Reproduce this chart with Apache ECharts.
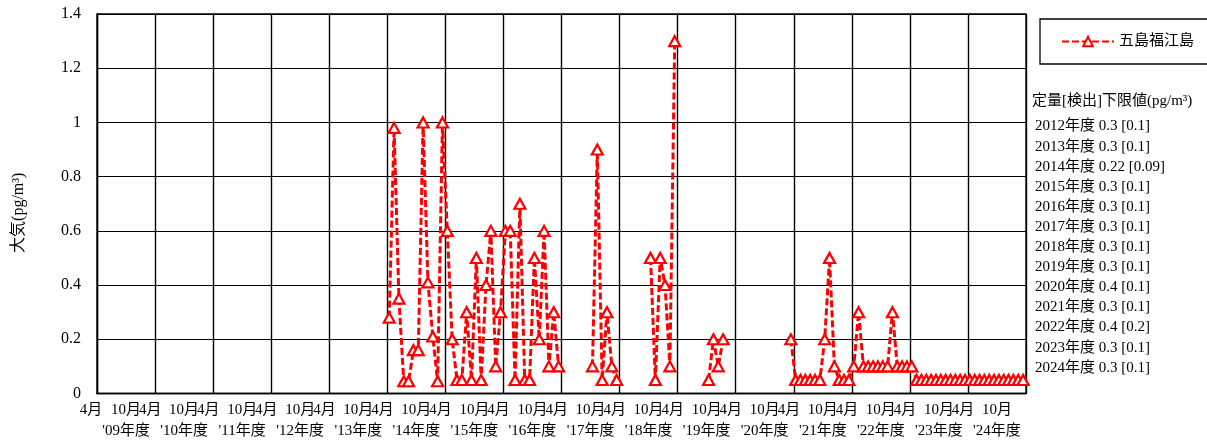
<!DOCTYPE html>
<html>
<head>
<meta charset="utf-8">
<script src="https://cdn.jsdelivr.net/npm/echarts@6/dist/echarts.min.js"></script>
<style>
html,body{margin:0;padding:0;background:#fff;}
#chart{width:1207px;height:443px;}
</style>
</head>
<body>
<div id="chart"></div>
<script>
// ---- data ----
const seriesName = '五島福江島';
const firstFiscalYear = 2009;           // axis starts April 2009
const totalMonths = 192;                // April 2009 .. March 2025
const dataStartMonth = 60;              // April 2014 (months since April 2009)
const fy2014 = [0.28, 0.98, 0.35, 0.045, 0.045, 0.16, 0.16, 1.0, 0.41, 0.21, 0.045, 1.0];
const fy2015 = [0.6, 0.2, 0.05, 0.05, 0.3, 0.05, 0.5, 0.05, 0.4, 0.6, 0.1, 0.3];
const fy2016 = [0.6, 0.6, 0.05, 0.7, 0.05, 0.05, 0.5, 0.2, 0.6, 0.1, 0.3, 0.1];
const fy2017 = [null, null, null, null, null, null, 0.1, 0.9, 0.05, 0.3, 0.1, 0.05];
const fy2018 = [null, null, null, null, null, null, 0.5, 0.05, 0.5, 0.4, 0.1, 1.3];
const fy2019 = [null, null, null, null, null, null, 0.05, 0.2, 0.1, 0.2, null, null];
const fy2020 = [null, null, null, null, null, null, null, null, null, null, null, 0.2];
const fy2021 = [0.05, 0.05, 0.05, 0.05, 0.05, 0.05, 0.2, 0.5, 0.1, 0.05, 0.05, 0.05];
const fy2022 = [0.1, 0.3, 0.1, 0.1, 0.1, 0.1, 0.1, 0.1, 0.3, 0.1, 0.1, 0.1];
const fy2023 = [0.1, 0.05, 0.05, 0.05, 0.05, 0.05, 0.05, 0.05, 0.05, 0.05, 0.05, 0.05];
const fy2024 = [0.05, 0.05, 0.05, 0.05, 0.05, 0.05, 0.05, 0.05, 0.05, 0.05, 0.05, 0.05];
const monthlyValues = [].concat(fy2014, fy2015, fy2016, fy2017, fy2018, fy2019, fy2020, fy2021, fy2022, fy2023, fy2024);

const yTicks = ['0', '0.2', '0.4', '0.6', '0.8', '1', '1.2', '1.4'];
const monthLabelStart = '4月';
const monthLabelMid = '10月';
const yearLabelSuffix = '年度';
const yAxisName = '大気(pg/m³)';
const limitTitle = '定量[検出]下限値(pg/m³)';
const limitNotes = [
  '2012年度 0.3 [0.1]',
  '2013年度 0.3 [0.1]',
  '2014年度 0.22 [0.09]',
  '2015年度 0.3 [0.1]',
  '2016年度 0.3 [0.1]',
  '2017年度 0.3 [0.1]',
  '2018年度 0.3 [0.1]',
  '2019年度 0.3 [0.1]',
  '2020年度 0.4 [0.1]',
  '2021年度 0.3 [0.1]',
  '2022年度 0.4 [0.2]',
  '2023年度 0.3 [0.1]',
  '2024年度 0.3 [0.1]'
];

// ---- chart ----
const FONT = "'Liberation Serif', 'Times New Roman', 'Noto Sans CJK JP', serif";
const monthOffset = 0.4;
const seriesData = monthlyValues.map((v, i) => [dataStartMonth + i + monthOffset, v == null ? '-' : v]);

const chart = echarts.init(document.getElementById('chart'), null, {renderer: 'canvas'});

const noteGraphics = [{
  type: 'text', left: 1032, top: 94,
  style: {text: limitTitle, font: '15px ' + FONT, fill: '#000'}
}].concat(limitNotes.map((t, i) => ({
  type: 'text', left: 1035, top: 119 + i * 20.1,
  style: {text: t, font: '15px ' + FONT, fill: '#000'}
})));

chart.setOption({
  animation: false,
  backgroundColor: '#fff',
  grid: {left: 97, right: 181, top: 14, bottom: 49.5, show: true, borderColor: '#000', borderWidth: 1.3, containLabel: false},
  legend: {
    left: 1040, top: 19,
    padding: [15, 14, 15, 21],
    borderColor: '#000', borderWidth: 1.3,
    itemWidth: 52, itemHeight: 12,
    textStyle: {fontFamily: FONT, fontSize: 15, color: '#000'},
    data: [seriesName]
  },
  xAxis: [{
    type: 'value', min: 0, max: totalMonths, interval: 12,
    axisLine: {show: true, lineStyle: {color: '#000', width: 1.3}},
    axisTick: {show: false},
    axisLabel: {show: false},
    splitLine: {show: true, lineStyle: {color: '#000', width: 1.4}}
  }, {
    type: 'value', min: 0, max: totalMonths, interval: 1, position: 'bottom',
    axisLine: {show: false}, axisTick: {show: false}, splitLine: {show: false},
    axisLabel: {
      show: true, margin: 6, lineHeight: 21,
      fontFamily: FONT, fontSize: 15, color: '#000',
      showMinLabel: true, showMaxLabel: false,
      formatter: function (v) {
        const mo = ((v % 12) + 12) % 12;
        if (v === 0) return '{f|' + monthLabelStart + '}';
        if (mo === 11 && v < totalMonths - 1) return monthLabelStart;
        if (mo === 6) {
          const fy = firstFiscalYear + Math.floor(v / 12);
          return monthLabelMid + '\n\'' + String(fy % 100).padStart(2, '0') + yearLabelSuffix;
        }
        return '';
      },
      rich: {f: {fontFamily: FONT, fontSize: 15, color: '#000', padding: [0, 12, 0, 0]}}
    }
  }],
  yAxis: {
    type: 'value', min: 0, max: 1.4, interval: 0.2,
    name: yAxisName, nameLocation: 'middle', nameGap: 70, nameRotate: 90,
    nameTextStyle: {fontFamily: FONT, fontSize: 16, color: '#000', padding: [0, 0, 0, -18]},
    axisLine: {show: true, lineStyle: {color: '#000', width: 1.3}},
    axisTick: {show: false},
    axisLabel: {
      margin: 16, fontFamily: FONT, fontSize: 16, color: '#000',
      formatter: function (v) { return yTicks[Math.round(v / 0.2)]; }
    },
    splitLine: {show: true, lineStyle: {color: '#000', width: 1.1}}
  },
  series: [{
    name: seriesName,
    type: 'line',
    xAxisIndex: 0,
    data: seriesData,
    connectNulls: false,
    symbol: 'triangle',
    symbolSize: [11, 10],
    showAllSymbol: true,
    lineStyle: {color: '#ff0000', width: 3, type: [7, 3]},
    itemStyle: {color: '#ffffff', borderColor: '#ff0000', borderWidth: 2.2}
  }],
  graphic: noteGraphics
});
</script>
</body>
</html>
